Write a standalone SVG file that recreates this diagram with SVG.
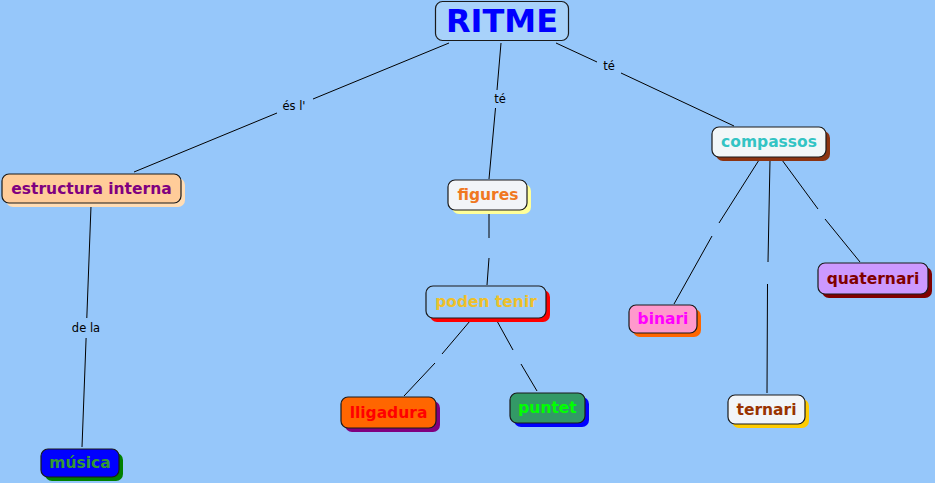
<svg xmlns="http://www.w3.org/2000/svg" width="935" height="483" viewBox="0 0 935 483">
<style>
.box{stroke:#1a1a1a;stroke-width:1.2}
.t{font-family:"DejaVu Sans",Verdana,sans-serif;font-weight:bold;font-size:15.5px;text-anchor:middle}
.lbl{font-family:"DejaVu Sans",Verdana,sans-serif;font-size:11.5px;text-anchor:middle;fill:#000}
#connectors line{stroke:#000;stroke-width:1}
</style>
<rect width="935" height="483" fill="#96C7FA"/>
<g id="connectors">
<line x1="449" y1="43" x2="313" y2="99"/><line x1="277" y1="113" x2="134" y2="172"/>
<line x1="501" y1="43" x2="497" y2="90"/><line x1="495.5" y1="108" x2="489" y2="179"/>
<line x1="556" y1="43" x2="597" y2="62"/><line x1="621" y1="73" x2="734" y2="126"/>
<line x1="91" y1="206" x2="86.8" y2="318"/><line x1="86.1" y1="338" x2="82" y2="447"/>
<line x1="489" y1="212" x2="489" y2="238"/><line x1="489" y1="258" x2="487" y2="285"/>
<line x1="470" y1="321" x2="442" y2="354"/><line x1="435" y1="363" x2="404" y2="396"/>
<line x1="497" y1="321" x2="513" y2="350"/><line x1="521" y1="364" x2="537" y2="391"/>
<line x1="759" y1="160" x2="719" y2="223"/><line x1="712" y1="236" x2="674" y2="304"/>
<line x1="770" y1="160" x2="768" y2="262"/><line x1="767.5" y1="284" x2="767" y2="393"/>
<line x1="782" y1="160" x2="818" y2="209"/><line x1="825" y1="219" x2="860" y2="262"/>
<text class="lbl" x="294" y="110">és l'</text>
<text class="lbl" x="500" y="103">té</text>
<text class="lbl" x="609" y="70">té</text>
<text class="lbl" x="86" y="332">de la</text>
</g>
<g id="ritme">
<rect class="box" x="435.5" y="1.5" width="133" height="39" rx="7" fill="#A8D2FA"/>
<text class="t" x="502" y="32" style="font-size:32px" fill="#0000FF">RITME</text>
</g>
<g id="estructura">
<rect x="6" y="178" width="179" height="29" rx="7" fill="#FFDDB5"/>
<rect class="box" x="2" y="174" width="179" height="29" rx="7" fill="#FFCC99"/>
<text class="t" x="91.5" y="194" fill="#800080">estructura interna</text>
</g>
<g id="figures">
<rect x="452" y="184" width="79" height="30" rx="7" fill="#FFFF99"/>
<rect class="box" x="448" y="180" width="79" height="30" rx="7" fill="#F2F5F8"/>
<text class="t" x="488" y="200" fill="#F07822">figures</text>
</g>
<g id="poden">
<rect x="430" y="290" width="120" height="32" rx="7" fill="#FF0000"/>
<rect class="box" x="426" y="286" width="120" height="32" rx="7" fill="#9CCBFA"/>
<text class="t" x="486" y="307" fill="#EEC02A">poden tenir</text>
</g>
<g id="compassos">
<rect x="716" y="131" width="114" height="30" rx="7" fill="#8B3412"/>
<rect class="box" x="712" y="127" width="114" height="30" rx="7" fill="#F2F7F8"/>
<text class="t" x="769" y="147" fill="#33C4C4">compassos</text>
</g>
<g id="binari">
<rect x="633" y="309" width="68" height="28" rx="7" fill="#FF6600"/>
<rect class="box" x="629" y="305" width="68" height="28" rx="7" fill="#FF99CC"/>
<text class="t" x="663" y="324" fill="#FF00FF">binari</text>
</g>
<g id="quaternari">
<rect x="822" y="267" width="110" height="31" rx="7" fill="#800000"/>
<rect class="box" x="818" y="263" width="110" height="31" rx="7" fill="#CC99FF"/>
<text class="t" x="873" y="284" fill="#800000">quaternari</text>
</g>
<g id="ternari">
<rect x="732" y="399" width="77" height="29" rx="7" fill="#FFCC00"/>
<rect class="box" x="728" y="395" width="77" height="29" rx="7" fill="#F2F5F8"/>
<text class="t" x="766.5" y="415" fill="#993300">ternari</text>
</g>
<g id="lligadura">
<rect x="345" y="401" width="95" height="31" rx="7" fill="#800080"/>
<rect class="box" x="341" y="397" width="95" height="31" rx="7" fill="#FF6600"/>
<text class="t" x="388.5" y="418" fill="#FF0000">lligadura</text>
</g>
<g id="puntet">
<rect x="514" y="397" width="75" height="30" rx="7" fill="#0000FF"/>
<rect class="box" x="510" y="393" width="75" height="30" rx="7" fill="#339966"/>
<text class="t" x="547.5" y="413" fill="#00FF00">puntet</text>
</g>
<g id="musica">
<rect x="45" y="453" width="78" height="28" rx="7" fill="#008000"/>
<rect class="box" x="41" y="449" width="78" height="28" rx="7" fill="#0000FF"/>
<text class="t" x="80" y="468" fill="#339933">música</text>
</g>
</svg>
